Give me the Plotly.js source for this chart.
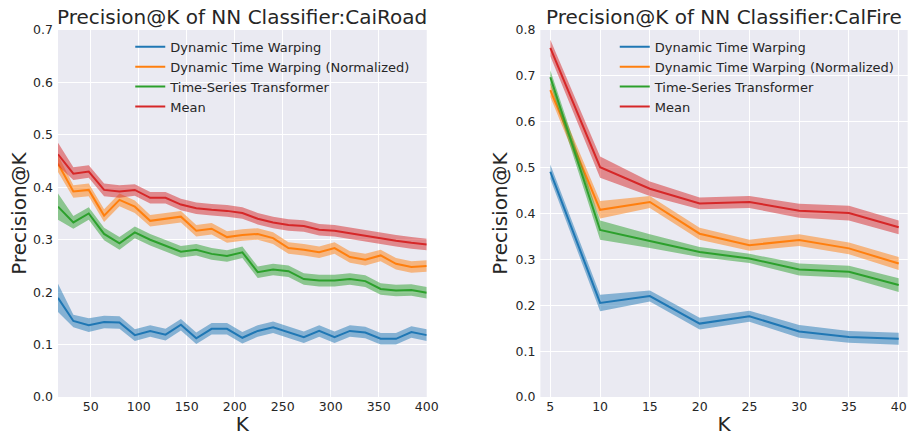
<!DOCTYPE html>
<html>
<head>
<meta charset="utf-8">
<script src="https://cdn.plot.ly/plotly-3.0.1.min.js"></script>
<style>html,body{margin:0;padding:0;background:#fff;}#chart{width:909px;height:436px;}</style>
</head>
<body>
<div id="chart"></div>
<script>
// ---- Data: CaiRoad ----
const kRoad = [16,32,48,64,80,96,112,128,144,160,176,192,208,224,240,256,272,288,304,320,336,352,368,384,400];
const roadDTW      = [0.189,0.145,0.137,0.143,0.142,0.118,0.126,0.119,0.138,0.112,0.130,0.130,0.113,0.126,0.133,0.124,0.114,0.126,0.114,0.126,0.123,0.111,0.111,0.124,0.118];
const roadDTWStd   = [0.027,0.012,0.013,0.012,0.012,0.011,0.011,0.011,0.011,0.011,0.011,0.011,0.011,0.011,0.011,0.011,0.011,0.011,0.011,0.011,0.011,0.011,0.011,0.011,0.011];
const roadDTWN     = [0.445,0.392,0.395,0.346,0.376,0.363,0.336,0.340,0.344,0.317,0.321,0.305,0.309,0.311,0.303,0.284,0.281,0.276,0.284,0.267,0.262,0.270,0.254,0.248,0.250];
const roadDTWNStd  = [0.016,0.012,0.012,0.012,0.012,0.012,0.011,0.011,0.011,0.011,0.011,0.011,0.011,0.011,0.011,0.011,0.011,0.011,0.011,0.011,0.011,0.011,0.011,0.011,0.011];
const roadTST      = [0.363,0.333,0.350,0.311,0.293,0.314,0.300,0.289,0.277,0.281,0.273,0.269,0.276,0.238,0.243,0.240,0.225,0.222,0.222,0.225,0.221,0.206,0.203,0.204,0.199];
const roadTSTStd   = [0.025,0.012,0.012,0.012,0.012,0.011,0.011,0.011,0.011,0.011,0.011,0.011,0.011,0.011,0.011,0.011,0.011,0.011,0.011,0.011,0.011,0.011,0.011,0.011,0.011];
const roadMean     = [0.463,0.426,0.430,0.395,0.392,0.395,0.380,0.380,0.367,0.360,0.357,0.355,0.351,0.340,0.333,0.328,0.326,0.319,0.317,0.312,0.308,0.303,0.298,0.294,0.291];
const roadMeanStd  = [0.022,0.012,0.012,0.012,0.012,0.011,0.011,0.011,0.011,0.011,0.011,0.011,0.011,0.011,0.011,0.011,0.011,0.011,0.011,0.011,0.011,0.011,0.011,0.011,0.011];

// ---- Data: CalFire ----
const kFire = [5,10,15,20,25,30,35,40];
const fireDTW      = [0.491,0.205,0.220,0.160,0.176,0.143,0.131,0.127];
const fireDTWStd   = [0.016,0.018,0.012,0.013,0.012,0.014,0.013,0.013];
const fireDTWN     = [0.669,0.408,0.425,0.356,0.331,0.342,0.324,0.291];
const fireDTWNStd  = [0.015,0.019,0.013,0.013,0.012,0.013,0.013,0.014];
const fireTST      = [0.697,0.364,0.340,0.316,0.302,0.278,0.273,0.244];
const fireTSTStd   = [0.015,0.021,0.015,0.011,0.010,0.013,0.013,0.015];
const fireMean     = [0.761,0.501,0.454,0.422,0.425,0.406,0.401,0.370];
const fireMeanStd  = [0.018,0.023,0.016,0.013,0.013,0.015,0.016,0.015];

const seriesNames = ['Dynamic Time Warping','Dynamic Time Warping (Normalized)','Time-Series Transformer','Mean'];
const lineColors = ['#1f77b4','#ff7f0e','#2ca02c','#d62728'];
const fillColors = ['rgba(31,119,180,0.5)','rgba(255,127,14,0.5)','rgba(44,160,44,0.5)','rgba(214,39,40,0.5)'];

const traces = [];
function addSeries(k, mean, std, idx, xa, ya, legendId) {
  const lo = mean.map((v,i)=>v-std[i]);
  const hi = mean.map((v,i)=>v+std[i]);
  traces.push({x:k, y:lo, xaxis:xa, yaxis:ya, mode:'lines', line:{width:0, color:fillColors[idx]}, showlegend:false, hoverinfo:'skip'});
  traces.push({x:k, y:hi, xaxis:xa, yaxis:ya, mode:'lines', line:{width:0, color:fillColors[idx]}, fill:'tonexty', fillcolor:fillColors[idx], showlegend:false, hoverinfo:'skip'});
  traces.push({x:k, y:mean, xaxis:xa, yaxis:ya, mode:'lines', name:seriesNames[idx], line:{width:2, color:lineColors[idx]}, legend:legendId});
}
addSeries(kRoad, roadDTW, roadDTWStd, 0, 'x', 'y', 'legend');
addSeries(kRoad, roadDTWN, roadDTWNStd, 1, 'x', 'y', 'legend');
addSeries(kRoad, roadTST, roadTSTStd, 2, 'x', 'y', 'legend');
addSeries(kRoad, roadMean, roadMeanStd, 3, 'x', 'y', 'legend');
addSeries(kFire, fireDTW, fireDTWStd, 0, 'x2', 'y2', 'legend2');
addSeries(kFire, fireDTWN, fireDTWNStd, 1, 'x2', 'y2', 'legend2');
addSeries(kFire, fireTST, fireTSTStd, 2, 'x2', 'y2', 'legend2');
addSeries(kFire, fireMean, fireMeanStd, 3, 'x2', 'y2', 'legend2');

const FONT = 'DejaVu Sans, sans-serif';
const TXT = '#262626';
const axisBase = {
  showgrid:true, gridcolor:'#ffffff', gridwidth:1, zeroline:false, showline:false,
  ticks:'', tickfont:{family:FONT, size:12.5, color:TXT}, automargin:false
};
const legendBase = {
  bgcolor:'rgba(0,0,0,0)', borderwidth:0, font:{family:FONT, size:13, color:TXT},
  xanchor:'left', yanchor:'top', tracegroupgap:0, itemwidth:30, traceorder:'normal'
};

const layout = {
  width:909, height:436,
  margin:{l:58, r:1, t:30, b:39},
  paper_bgcolor:'#ffffff', plot_bgcolor:'#EAEAF2',
  font:{family:FONT, color:TXT},
  showlegend:true,
  xaxis: Object.assign({}, axisBase, {domain:[0,0.4338], range:[16,400], dtick:50, tick0:0,
    title:{text:'K', font:{family:FONT, size:20, color:TXT}, standoff:6}}),
  yaxis: Object.assign({}, axisBase, {domain:[0,1], range:[0,0.7], dtick:0.1, tickformat:'.1f', ticklabelstandoff:4,
    title:{text:'Precision@K', font:{family:FONT, size:20, color:TXT}, standoff:1}}),
  xaxis2: Object.assign({}, axisBase, {domain:[0.5675,0.9996], range:[4,40.9], dtick:5, tick0:0,
    title:{text:'K', font:{family:FONT, size:20, color:TXT}, standoff:6}}),
  yaxis2: Object.assign({}, axisBase, {domain:[0,1], range:[0,0.8], dtick:0.1, tickformat:'.1f', ticklabelstandoff:4, anchor:'x2',
    title:{text:'Precision@K', font:{family:FONT, size:20, color:TXT}, standoff:2}}),
  legend: Object.assign({}, legendBase, {x:0.085, y:0.995}),
  legend2: Object.assign({}, legendBase, {x:0.655, y:0.995}),
  annotations:[
    {text:'Precision@K of NN Classifier:CaiRoad', xref:'x domain', yref:'y domain', x:0.5, y:1, xanchor:'center', yanchor:'bottom', showarrow:false, font:{family:FONT, size:20, color:TXT}, yshift:-1},
    {text:'Precision@K of NN Classifier:CalFire', xref:'x2 domain', yref:'y2 domain', x:0.5, y:1, xanchor:'center', yanchor:'bottom', showarrow:false, font:{family:FONT, size:20, color:TXT}, yshift:-1}
  ]
};
layout.xaxis2.anchor = 'y2';

Plotly.newPlot('chart', traces, layout, {staticPlot:true, displayModeBar:false});
</script>
</body>
</html>
